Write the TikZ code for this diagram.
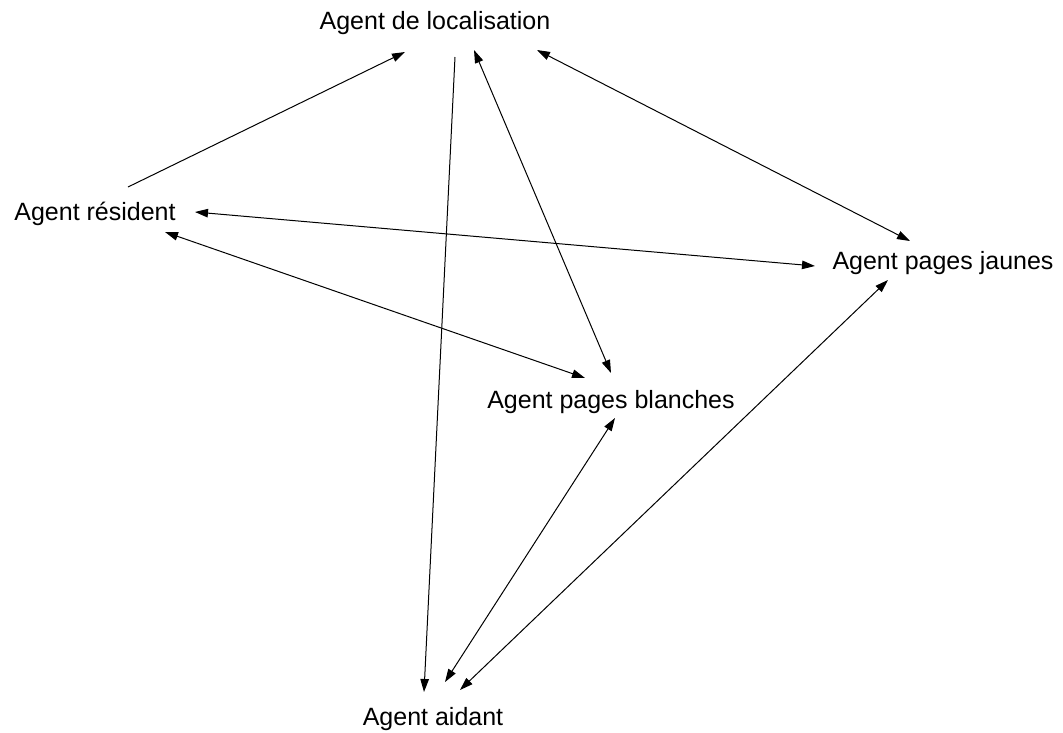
\documentclass[tikz,border=0pt]{standalone}
\usepackage{fontspec}
\setmainfont{Liberation Sans}
\usetikzlibrary{arrows.meta}
\begin{document}
\begin{tikzpicture}[x=1pt,y=-1pt,
  agent/.style={inner sep=0pt,font=\fontsize{25}{30}\selectfont},
  tip/.style={Triangle[length=13pt,width=8.5pt]},
  link/.style={line width=1pt,-{Triangle[length=13pt,width=8.5pt]}},
  both/.style={line width=1pt,{Triangle[length=13pt,width=8.5pt]}-{Triangle[length=13pt,width=8.5pt]}}]
\useasboundingbox[fill=white] (0,0) rectangle (1063,732);
% agents
\node[agent] (loc) at (435,23) {Agent de localisation};
\node[agent] (res) at (95,214) {Agent résident};
\node[agent] (jau) at (943,263) {Agent pages jaunes};
\node[agent] (bla) at (611,402) {Agent pages blanches};
\node[agent] (aid) at (433,719) {Agent aidant};
% one-way links
\draw[link] ([shift={(33,-27)}]res.center) -- ([shift={(-30,29)}]loc.center);
\draw[link] ([shift={(20,34)}]loc.center) -- ([shift={(-9,-27)}]aid.center);
% two-way links
\draw[both] ([shift={(39,27)}]loc.center) -- ([shift={(0,-29)}]bla.center);
\draw[both] ([shift={(102,27)}]loc.center) -- ([shift={(-33,-22)}]jau.center);
\draw[both] ([shift={(100,-2)}]res.center) -- ([shift={(-128,3)}]jau.center);
\draw[both] ([shift={(70,18)}]res.center) -- ([shift={(-26,-24)}]bla.center);
\draw[both] ([shift={(4,16)}]bla.center) -- ([shift={(12,-37)}]aid.center);
\draw[both] ([shift={(-55,17)}]jau.center) -- ([shift={(27,-29)}]aid.center);
\end{tikzpicture}
\end{document}
